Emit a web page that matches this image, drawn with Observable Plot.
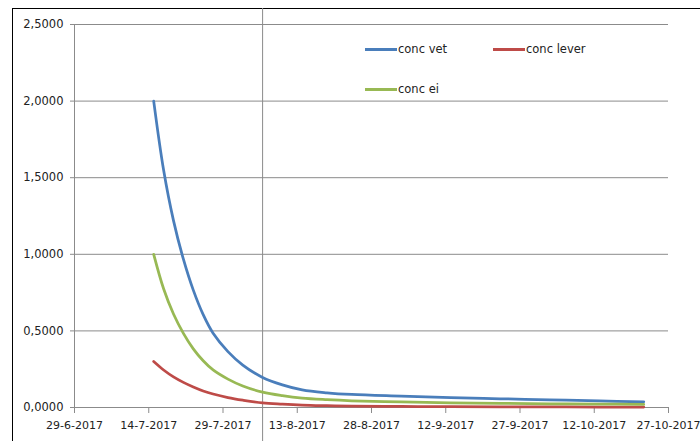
<!DOCTYPE html>
<html>
<head>
<meta charset="utf-8">
<script src="https://cdn.jsdelivr.net/npm/d3@7"></script>
<script src="https://cdn.jsdelivr.net/npm/@observablehq/plot@0.6"></script>
<style>
  html, body { margin: 0; padding: 0; background: #fff; }
  #wrap { position: relative; width: 700px; height: 441px; overflow: hidden; font-family: "DejaVu Sans", sans-serif; }
  #frame { position: absolute; left: 12px; top: 8px; width: 800px; height: 600px; border-left: 1px solid #000; border-top: 1px solid #000; }
  #chart { position: absolute; left: 0; top: 0; }
  .leg { position: absolute; font-size: 11.5px; color: #222; display: flex; align-items: center; white-space: nowrap; }
  .leg span.sw { display: inline-block; width: 32px; height: 3px; margin-right: 1px; }
</style>
</head>
<body>
<div id="wrap">
  <div id="frame"></div>
  <div id="chart"></div>
  <div class="leg" style="left:365px; top:42px;"><span class="sw" style="background:#4A7EBB"></span>conc vet</div>
  <div class="leg" style="left:493px; top:42px;"><span class="sw" style="background:#BE4B48"></span>conc lever</div>
  <div class="leg" style="left:365px; top:82px;"><span class="sw" style="background:#98B954"></span>conc ei</div>
</div>
<script>
// ---- data ----
const dates = ["15-7-2017","17-7-2017","19-7-2017","21-7-2017","23-7-2017","25-7-2017","27-7-2017",
  "30-7-2017","2-8-2017","6-8-2017","10-8-2017","14-8-2017","19-8-2017","24-8-2017","3-9-2017",
  "13-9-2017","23-9-2017","3-10-2017","13-10-2017","22-10-2017"];
const concVet   = [2.0, 1.55, 1.22, 0.968, 0.766, 0.606, 0.485, 0.365, 0.277, 0.196, 0.148, 0.115, 0.096, 0.085, 0.074, 0.064, 0.057, 0.050, 0.043, 0.037];
const concLever = [0.3, 0.245, 0.200, 0.164, 0.134, 0.108, 0.088, 0.065, 0.048, 0.030, 0.022, 0.016, 0.012, 0.009, 0.007, 0.005, 0.004, 0.004, 0.003, 0.003];
const concEi    = [1.0, 0.775, 0.61, 0.484, 0.383, 0.305, 0.245, 0.185, 0.140, 0.10, 0.077, 0.061, 0.051, 0.044, 0.036, 0.031, 0.027, 0.024, 0.022, 0.020];
const seriesNames = ["conc vet", "conc lever", "conc ei"];
const seriesColors = ["#4A7EBB", "#BE4B48", "#98B954"];
const xTickLabels = ["29-6-2017","14-7-2017","29-7-2017","13-8-2017","28-8-2017","12-9-2017","27-9-2017","12-10-2017","27-10-2017"];
const yTicks = [0, 0.5, 1.0, 1.5, 2.0, 2.5];
const markerDate = "6-8-2017";

// ---- build ----
const parse = d3.utcParse("%d-%m-%Y");
const fmtDate = d => `${d.getUTCDate()}-${d.getUTCMonth() + 1}-${d.getUTCFullYear()}`;
const fmtY = d => d3.format(".4f")(d).replace(".", ",");
const xTicks = xTickLabels.map(parse);
const values = [concVet, concLever, concEi];
const rows = [];
values.forEach((arr, i) => arr.forEach((v, j) => rows.push({series: seriesNames[i], date: parse(dates[j]), value: v})));

const grid = "#8b8b8b";
const chart = Plot.plot({
  width: 700,
  height: 441,
  marginLeft: 74,
  marginRight: 32,
  marginTop: 24,
  marginBottom: 34,
  style: {fontFamily: "DejaVu Sans, sans-serif", fontSize: "11.5px", color: "#222", background: "transparent", overflow: "visible"},
  x: {type: "utc", domain: [xTicks[0], xTicks[xTicks.length - 1]]},
  y: {domain: [0, 2.5]},
  color: {domain: seriesNames, range: seriesColors},
  marks: [
    Plot.ruleY(yTicks, {stroke: grid, strokeWidth: 1, insetLeft: -4}),
    Plot.ruleX([xTicks[0]], {stroke: grid, strokeWidth: 1}),
    Plot.ruleX([parse(markerDate)], {stroke: grid, strokeWidth: 1, insetTop: -16, insetBottom: -40}),
    Plot.axisY({ticks: yTicks, tickFormat: fmtY, tickSize: 0, tickPadding: 11, label: null, fill: "#222"}),
    Plot.axisX({ticks: xTicks, tickFormat: fmtDate, tickSize: 6, tickPadding: 8, label: null, stroke: grid, fill: "#222", fontSize: 11}),
    Plot.line(rows, {x: "date", y: "value", z: "series", stroke: "series", strokeWidth: 2.75, curve: "catmull-rom"})
  ]
});
document.getElementById("chart").appendChild(chart);
</script>
</body>
</html>
